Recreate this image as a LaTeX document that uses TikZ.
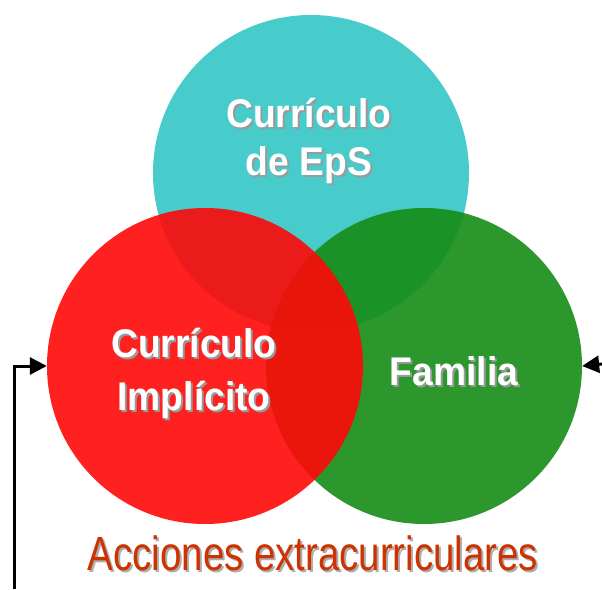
\documentclass[tikz,border=0pt]{standalone}
\usepackage{fontspec}
\usetikzlibrary{arrows.meta}
\newfontfamily\labfont[FakeStretch=0.93]{Liberation Sans}
\newfontfamily\accfont[FakeStretch=0.8]{Liberation Sans}
\definecolor{cyanfill}{HTML}{33C6C6}
\definecolor{redfill}{HTML}{FF0808}
\definecolor{greenfill}{HTML}{168C16}
\definecolor{acccol}{HTML}{CC3300}
\definecolor{shadowgray}{HTML}{9A9A9A}
\tikzset{
  venn/.style={circle, minimum size=316pt, inner sep=0pt, fill opacity=0.9, draw=none},
  lbl/.style={anchor=base, inner sep=0pt, text=white, font=\labfont\bfseries\fontsize{40}{48}\selectfont},
  lblsh/.style={lbl, text=shadowgray},
  acc/.style={anchor=base, inner sep=0pt, text=acccol, font=\accfont\fontsize{48}{56}\selectfont},
  accsh/.style={acc, text=shadowgray!80},
  conn/.style={line width=3pt, -{Triangle[length=17pt,width=17pt]}}
}
\begin{document}
\begin{tikzpicture}[x=1pt,y=-1pt]
\useasboundingbox (0,0) rectangle (602,589);
\fill[white] (0,0) rectangle (602,589);
\node[venn, fill=cyanfill] (cyanc) at (311,173) {};
\node[venn, fill=greenfill] (greenc) at (424,366) {};
\node[venn, fill=redfill] (redc) at (205,366) {};
% labels: shadows
\node[lblsh] (t1s) at (311,129) {Currículo};
\node[lblsh] (t2s) at (311,177) {de EpS};
\node[lblsh] (r1s) at (196,359) {Currículo};
\node[lblsh] (r2s) at (196,412) {Implícito};
\node[lblsh] (g1s) at (456,387) {Familia};
\node[accsh] (as) at (315,572) {Acciones extracurriculares};
% labels
\node[lbl] (t1) at (309,127) {Currículo};
\node[lbl] (t2) at (309,175) {de EpS};
\node[lbl] (r1) at (194,357) {Currículo};
\node[lbl] (r2) at (194,410) {Implícito};
\node[lbl] (g1) at (454,385) {Familia};
\node[acc] (a) at (313,570) {Acciones extracurriculares};
% connectors
\coordinate (lstart) at (14,589);
\coordinate (rstart) at (602,364);
\draw[conn] (lstart) |- (redc.west);
\draw[conn] (rstart) -- (greenc.east);
\end{tikzpicture}
\end{document}
